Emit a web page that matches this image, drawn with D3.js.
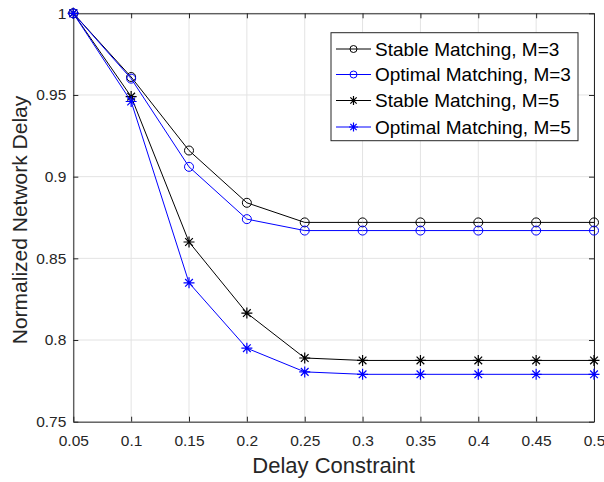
<!DOCTYPE html>
<html><head><meta charset="utf-8">
<script src="https://cdn.jsdelivr.net/npm/d3@7"></script>
<style>body{margin:0;background:#fff}svg{display:block}text{font-family:"Liberation Sans",Arial,sans-serif}</style>
</head><body>
<script>
const delays = [0.05,0.1,0.15,0.2,0.25,0.3,0.35,0.4,0.45,0.5];
const stableM3  = [1,0.961,0.916,0.884,0.872,0.872,0.872,0.872,0.872,0.872];
const optimalM3 = [1,0.960,0.906,0.874,0.867,0.867,0.867,0.867,0.867,0.867];
const stableM5  = [1,0.949,0.860,0.8165,0.789,0.7875,0.7875,0.7875,0.7875,0.7875];
const optimalM5 = [1,0.946,0.835,0.795,0.7805,0.779,0.779,0.779,0.779,0.779];
const xTicks = [0.05,0.1,0.15,0.2,0.25,0.3,0.35,0.4,0.45,0.5];
const yTicks = [0.75,0.8,0.85,0.9,0.95,1];
const seriesNames = ["Stable Matching, M=3","Optimal Matching, M=3","Stable Matching, M=5","Optimal Matching, M=5"];
const seriesColors = ["#000000","#0000ff","#000000","#0000ff"];
const seriesMarkers = ["circle","circle","star","star"];
const seriesValues = [stableM3, optimalM3, stableM5, optimalM5];

const W=604,H=482;
const L=73.3,R=594,T=13.3,B=421.7;
const svg=d3.select("body").append("svg").attr("width",W).attr("height",H);
const x=d3.scaleLinear().domain([0.05,0.5]).range([L,R]);
const y=d3.scaleLinear().domain([0.75,1]).range([B,T]);

// grid
svg.append("g").selectAll("line").data(xTicks).join("line")
  .attr("x1",d=>x(d)).attr("x2",d=>x(d)).attr("y1",T).attr("y2",B)
  .attr("stroke","#e3e3e3").attr("stroke-width",1);
svg.append("g").selectAll("line").data(yTicks).join("line")
  .attr("y1",d=>y(d)).attr("y2",d=>y(d)).attr("x1",L).attr("x2",R)
  .attr("stroke","#e3e3e3").attr("stroke-width",1);

// axes
const fmt=d=>String(+d.toFixed(2));
const axB=svg.append("g").attr("transform",`translate(0,${B})`).call(d3.axisBottom(x).tickValues(xTicks).tickFormat(fmt).tickSizeInner(-5).tickSizeOuter(0).tickPadding(13));
const axL=svg.append("g").attr("transform",`translate(${L},0)`).call(d3.axisLeft(y).tickValues(yTicks).tickFormat(fmt).tickSizeInner(-5).tickSizeOuter(0).tickPadding(7));
const axT=svg.append("g").attr("transform",`translate(0,${T})`).call(d3.axisTop(x).tickValues(xTicks).tickFormat("").tickSizeInner(-5).tickSizeOuter(0));
const axR=svg.append("g").attr("transform",`translate(${R},0)`).call(d3.axisRight(y).tickValues(yTicks).tickFormat("").tickSizeInner(-5).tickSizeOuter(0));
[axB,axL,axT,axR].forEach(a=>{
  a.selectAll("path").attr("stroke","#262626").attr("stroke-width",1);
  a.selectAll("line").attr("stroke","#262626");
  a.selectAll("text").attr("fill","#262626").style("font-size","15.5px").style("font-family",'"Liberation Sans",Arial,sans-serif');
});

// labels
svg.append("text").attr("x",(L+R)/2).attr("y",473).attr("text-anchor","middle")
  .attr("fill","#262626").style("font-size","22px").text("Delay Constraint");
svg.append("text").attr("transform",`translate(26.5,220) rotate(-90)`).attr("text-anchor","middle")
  .attr("fill","#262626").style("font-size","21px").text("Normalized Network Delay");

function drawMarker(g,type,cx,cy,color,s){
  if(type==="circle"){
    g.append("circle").attr("cx",cx).attr("cy",cy).attr("r",s).attr("fill","none").attr("stroke",color).attr("stroke-width",1);
  } else {
    const r=s+0.5;
    const p=`M${cx-r},${cy}L${cx+r},${cy}M${cx},${cy-r}L${cx},${cy+r}M${cx-r*0.7},${cy-r*0.7}L${cx+r*0.7},${cy+r*0.7}M${cx-r*0.7},${cy+r*0.7}L${cx+r*0.7},${cy-r*0.7}`;
    g.append("path").attr("d",p).attr("stroke",color).attr("stroke-width",1.2).attr("fill","none");
  }
}

const line=d3.line().x((d,i)=>x(delays[i])).y(d=>y(d));
seriesValues.forEach((vals,k)=>{
  const g=svg.append("g");
  g.append("path").attr("d",line(vals)).attr("fill","none").attr("stroke",seriesColors[k]).attr("stroke-width",1);
  vals.forEach((v,i)=>drawMarker(g,seriesMarkers[k],x(delays[i]),y(v),seriesColors[k],seriesMarkers[k]==="circle"?4.5:5));
});

// legend
const lg=svg.append("g");
lg.append("rect").attr("x",331).attr("y",32.7).attr("width",247).attr("height",108).attr("fill","#fff").attr("stroke","#262626").attr("stroke-width",1);
const ly=[49,74.5,100.5,127];
seriesNames.forEach((n,k)=>{
  lg.append("line").attr("x1",336).attr("x2",371).attr("y1",ly[k]).attr("y2",ly[k]).attr("stroke",seriesColors[k]).attr("stroke-width",1);
  drawMarker(lg,seriesMarkers[k],353.5,ly[k],seriesColors[k],seriesMarkers[k]==="circle"?3.5:4);
  lg.append("text").attr("x",375).attr("y",ly[k]).attr("dy","0.35em").attr("fill","#000").style("font-size","19px").text(n);
});
</script>
</body></html>
